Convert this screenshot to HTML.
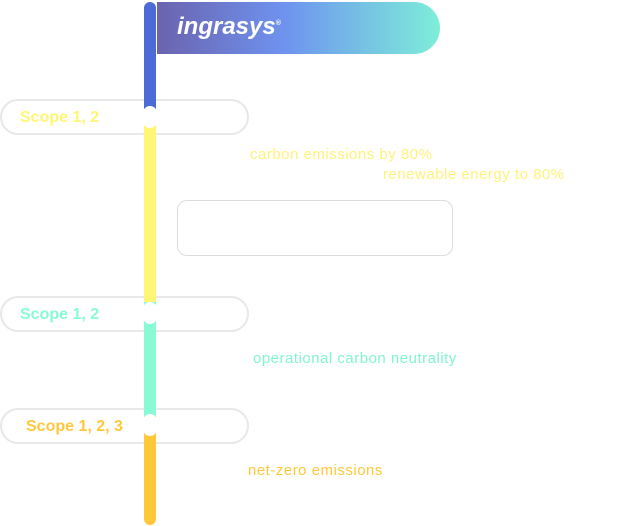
<!DOCTYPE html>
<html><head><meta charset="utf-8"><style>
body{margin:0;width:621px;height:526px;position:relative;background:#fff;font-family:"Liberation Sans",sans-serif;overflow:hidden}
.a{position:absolute}
.pill{position:absolute;left:0;width:249px;border:2px solid #e8e8e8;border-radius:18px;background:#fff;box-sizing:border-box}
.pill span{position:absolute;top:8px;font-weight:bold;font-size:16px}
.seg{position:absolute;left:144px;width:12px}
.dot{position:absolute;left:143px;width:14px;height:22px;background:#fff;border-radius:7px}
.t{position:absolute;font-size:15px;white-space:nowrap;letter-spacing:0.5px}
</style></head><body>
<div class="a" style="left:157px;top:2px;width:283px;height:52px;border-radius:0 26px 26px 0;background:linear-gradient(90deg,#6b63ae 0%,#6e93ef 45%,#7eeed9 100%)">
<span style="position:absolute;left:20px;top:11px;color:#fff;font-weight:bold;font-style:italic;font-size:24px">ingrasys<sup style="font-size:7px">®</sup></span>
</div>
<div class="pill" style="top:99px;height:36px"><span style="left:18px;color:#fff674">Scope 1, 2</span></div>
<div class="pill" style="top:296px;height:36px"><span style="left:18px;color:#88fbd4">Scope 1, 2</span></div>
<div class="pill" style="top:408px;height:36px"><span style="left:24px;color:#ffc83a">Scope 1, 2, 3</span></div>
<div class="seg" style="top:2px;height:108px;background:#4c6bd6;border-radius:6px 6px 0 0"></div>
<div class="seg" style="top:110px;height:192px;background:#fff674"></div>
<div class="seg" style="top:302px;height:114px;background:#88fbd4"></div>
<div class="seg" style="top:416px;height:109px;background:#ffc83a;border-radius:0 0 6px 6px"></div>
<div class="dot" style="top:106px"></div>
<div class="dot" style="top:302px"></div>
<div class="dot" style="top:414px"></div>
<div class="t" style="left:250px;top:146px;color:#fff27a">carbon emissions by 80%</div>
<div class="t" style="left:383px;top:166px;color:#fff27a">renewable energy to 80%</div>
<div class="a" style="left:177px;top:200px;width:276px;height:56px;border:1px solid #dcdcdc;border-radius:10px;box-sizing:border-box"></div>
<div class="t" style="left:253px;top:350px;color:#80f5d0">operational carbon neutrality</div>
<div class="t" style="left:248px;top:462px;color:#ffc83a">net-zero emissions</div>
</body></html>
